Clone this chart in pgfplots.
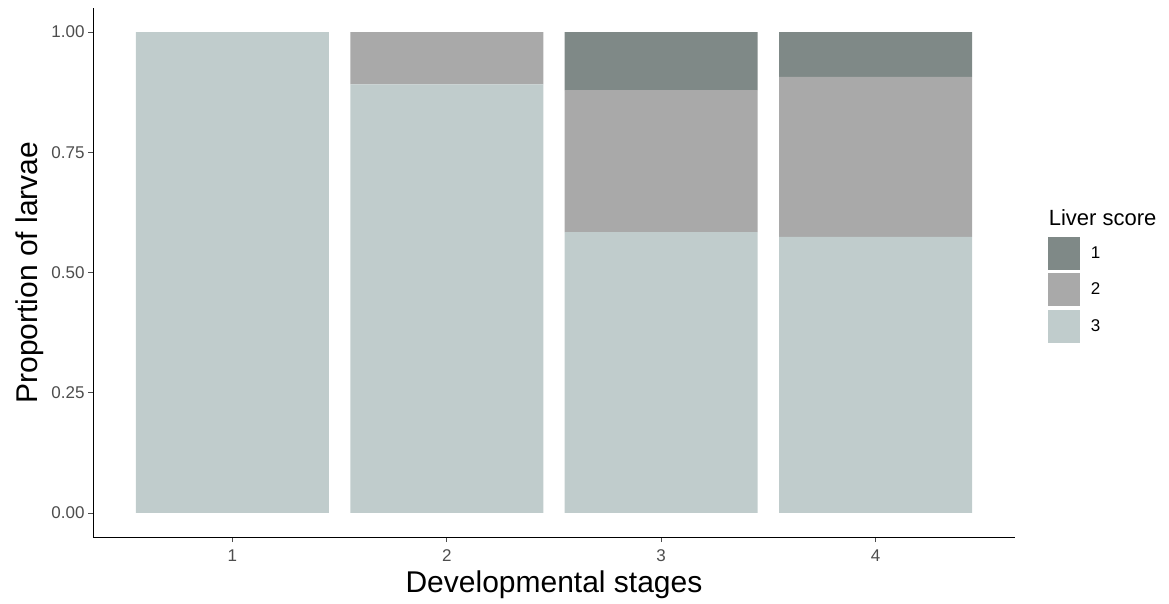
\documentclass[border=0pt]{standalone}
\usepackage{pgfplots}
\pgfplotsset{compat=1.18}
\usepackage{fontspec}
\setmainfont{Liberation Sans}
\definecolor{s1}{HTML}{7F8987}
\definecolor{s2}{HTML}{A9A9A9}
\definecolor{s3}{HTML}{C0CCCC}
\definecolor{tickgray}{HTML}{4D4D4D}
\begin{document}
\begin{tikzpicture}[x=1pt,y=1pt]
\path (0,0) rectangle (1169,603);
\begin{axis}[
  at={(93pt,66pt)}, anchor=south west,
  width=922pt, height=529pt, scale only axis,
  clip=false,
  xmin=0.35, xmax=4.65, ymin=-0.05, ymax=1.05,
  ybar stacked, bar width=0.9, bar shift=0pt,
  axis x line*=bottom, axis y line*=left,
  axis line style={black, line width=0.8pt, -},
  xtick={1,2,3,4},
  ytick={0,0.25,0.5,0.75,1},
  yticklabel style={/pgf/number format/.cd, fixed, fixed zerofill, precision=2},
  /pgf/number format/assume math mode=true,
  tick style={black!70, line width=0.6pt},
  tick align=outside, major tick length=5pt,
  ticklabel style={font=\fontsize{17}{19}\selectfont, text=tickgray},
  xticklabel style={yshift=-4pt},
  xlabel={Developmental stages}, ylabel={Proportion of larvae},
  label style={font=\fontsize{30}{34}\selectfont},
  xlabel style={yshift=-2pt},
  ylabel style={yshift=1pt},
  legend style={at={(1.0354,0.568)}, anchor=north west, draw=none, fill=none,
    font=\fontsize{17}{19}\selectfont, row sep=3.5pt, inner sep=0pt},
  legend cell align=left,
  reverse legend,
  legend image code/.code={\fill[#1] (0pt,-16.5pt) rectangle (32pt,16.5pt);},
  every axis legend/.append style={nodes={inner xsep=11pt, inner ysep=0pt}},
]
\addplot[fill=s3, draw=none] coordinates {(1,1.00) (2,0.891) (3,0.584) (4,0.574)};
\addplot[fill=s2, draw=none] coordinates {(1,0.00) (2,0.109) (3,0.295) (4,0.333)};
\addplot[fill=s1, draw=none] coordinates {(1,0.00) (2,0.000) (3,0.121) (4,0.093)};
\legend{3,2,1}
\node[anchor=west, font=\fontsize{22}{25}\selectfont, inner sep=0pt] at (axis description cs:1.0365,0.604) {Liver score};
\end{axis}
\end{tikzpicture}
\end{document}
